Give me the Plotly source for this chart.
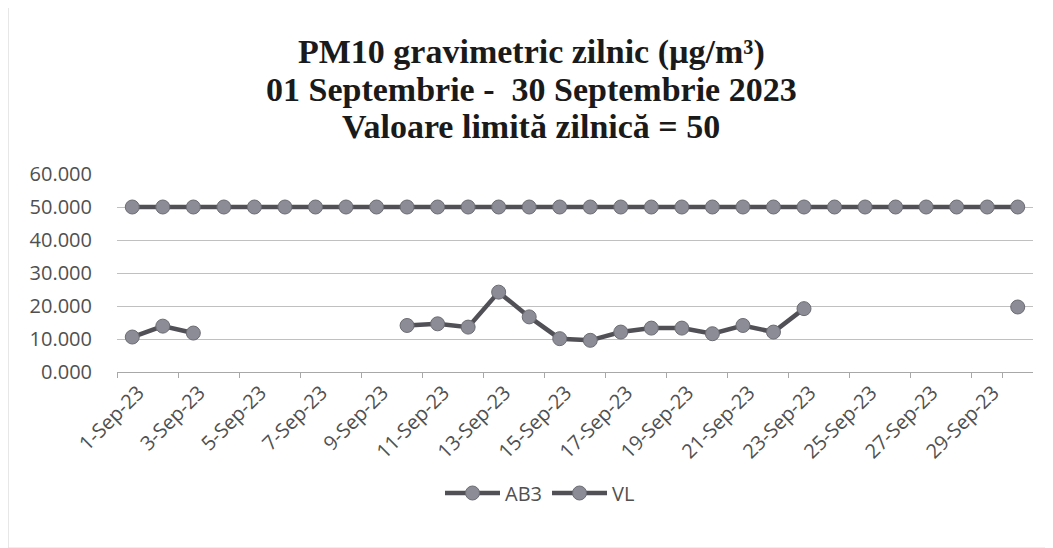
import plotly.graph_objects as go

days = [f"{d}-Sep-23" for d in range(1, 31)]

ab3 = [10.6, 13.9, 11.8, None, None, None, None, None, None, 14.1,
       14.6, 13.6, 24.2, 16.7, 10.1, 9.6, 12.1, 13.3, 13.3, 11.6,
       14.1, 12.1, 19.2, None, None, None, None, None, None, 19.7]
vl = [50] * 30

tick_days = days[::2]
y_ticks = [0, 10, 20, 30, 40, 50, 60]

title_lines = [
    "PM10 gravimetric zilnic (µg/m³)",
    "01 Septembrie -  30 Septembrie 2023",
    "Valoare limită zilnică = 50",
]

line_col = "#505056"
marker_col = "#8c8c96"
font_fam = "Open Sans, DejaVu Sans, sans-serif"
text_col = "#505050"

W, H = 1053, 548
# the page puts the plot 8px in from the top-left corner
L, R, T, B = 109, 28, 166, 184
pw, ph = W - L - R, H - T - B

fig = go.Figure()

for name, vals in [("AB3", ab3), ("VL", vl)]:
    fig.add_trace(go.Scatter(
        x=days,
        y=vals,
        name=name,
        mode="lines+markers",
        line=dict(color=line_col, width=4.5),
        marker=dict(size=14, color=marker_col, line=dict(color="#6c6c74", width=1)),
        connectgaps=False,
    ))

for i, txt in enumerate(title_lines):
    fig.add_annotation(
        text=f"<b>{txt}</b>",
        xref="paper", yref="paper",
        x=(531 - 8 - L) / pw,
        y=1 + (T - (44 + 37 * i)) / ph,
        xanchor="center", yanchor="middle",
        showarrow=False,
        font=dict(family="Liberation Serif, Times New Roman, serif", size=34, color="#1a1a1a"),
    )

fig.update_layout(
    width=W,
    height=H,
    paper_bgcolor="white",
    plot_bgcolor="white",
    margin=dict(l=L, r=R, t=T, b=B),
    xaxis=dict(
        type="category",
        categoryorder="array",
        categoryarray=days,
        tickmode="array",
        tickvals=tick_days,
        ticktext=tick_days,
        tickangle=-45,
        tickson="boundaries",
        ticks="outside",
        ticklen=5,
        tickcolor="#a8a8a8",
        showline=True,
        linecolor="#a8a8a8",
        linewidth=1,
        showgrid=False,
        ticklabelshift=6,
        tickfont=dict(family=font_fam, size=20, color=text_col),
        range=[-0.5, 29.5],
        automargin=False,
    ),
    yaxis=dict(
        range=[0, 60],
        tickvals=y_ticks,
        tickformat=".3f",
        showgrid=True,
        gridcolor="#c0c0c0",
        gridwidth=1,
        zeroline=False,
        showline=False,
        ticks="",
        ticklabelstandoff=24,
        tickfont=dict(family=font_fam, size=20, color=text_col),
        automargin=False,
    ),
    legend=dict(
        orientation="h",
        x=(532 - L) / pw,
        xanchor="center",
        xref="paper",
        y=1 - 485 / H,
        yanchor="middle",
        yref="container",
        itemwidth=55,
        font=dict(family=font_fam, size=20, color=text_col),
    ),
    shapes=[
        dict(type="line", xref="paper", yref="paper",
             x0=-L / pw, x1=-L / pw, y0=-(B - 8) / ph, y1=1 + T / ph,
             line=dict(color="#cfcfcf", width=1)),
        dict(type="line", xref="paper", yref="paper",
             x0=-L / pw, x1=1 + (R - 11) / pw, y0=-(B - 8) / ph, y1=-(B - 8) / ph,
             line=dict(color="#dcdcdc", width=1)),
    ],
)

fig.write_html("out.html")
